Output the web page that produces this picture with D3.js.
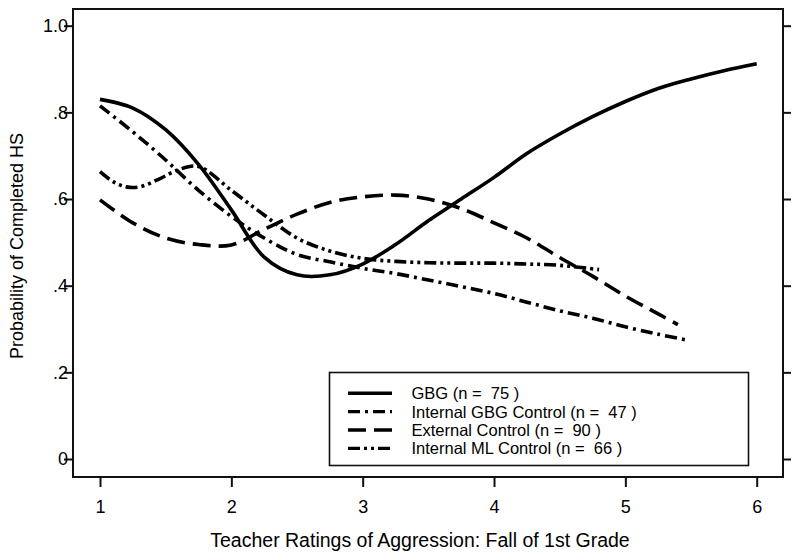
<!DOCTYPE html>
<html>
<head>
<meta charset="utf-8">
<title>Completed HS by Aggression</title>
<script src="https://cdn.jsdelivr.net/npm/d3@7"></script>
<style>
body { margin: 0; background: #fff; }
text { font-family: "Liberation Sans", Arial, sans-serif; fill: #000; }
</style>
</head>
<body>
<svg width="800" height="560" id="chart"></svg>
<script>
// values
var gbgX = [1, 1.25, 1.5, 1.75, 2, 2.25, 2.5, 2.75, 3, 3.25, 3.5, 3.75, 4, 4.25, 4.5, 4.75, 5, 5.25, 5.5, 5.75, 6];
var gbgY = [0.83, 0.81, 0.76, 0.68, 0.575, 0.466, 0.425, 0.425, 0.45, 0.495, 0.55, 0.6, 0.65, 0.705, 0.75, 0.79, 0.825, 0.855, 0.877, 0.896, 0.912];

var intGbgX = [1, 1.25, 1.5, 1.75, 2, 2.25, 2.5, 2.75, 3, 3.25, 3.5, 3.75, 4, 4.25, 4.5, 4.75, 5, 5.25, 5.46];
var intGbgY = [0.815, 0.755, 0.69, 0.62, 0.56, 0.51, 0.472, 0.455, 0.44, 0.428, 0.413, 0.398, 0.382, 0.362, 0.342, 0.325, 0.305, 0.288, 0.275];

var extX = [1, 1.25, 1.5, 1.75, 2, 2.25, 2.5, 2.75, 3, 3.25, 3.5, 3.75, 4, 4.25, 4.5, 4.75, 5, 5.25, 5.4];
var extY = [0.598, 0.545, 0.51, 0.495, 0.494, 0.53, 0.565, 0.592, 0.605, 0.609, 0.6, 0.578, 0.545, 0.51, 0.465, 0.422, 0.376, 0.335, 0.31];

var mlX = [1, 1.1, 1.2, 1.3, 1.45, 1.6, 1.75, 2, 2.25, 2.5, 2.75, 3, 3.25, 3.5, 3.75, 4, 4.25, 4.5, 4.8];
var mlY = [0.663, 0.64, 0.628, 0.628, 0.646, 0.668, 0.675, 0.62, 0.563, 0.51, 0.48, 0.463, 0.456, 0.453, 0.452, 0.452, 0.45, 0.447, 0.437];

var legendLabels = ["GBG (n =  75 )", "Internal GBG Control (n =  47 )", "External Control (n =  90 )", "Internal ML Control (n =  66 )"];
var xTicks = [1, 2, 3, 4, 5, 6];
var yTicks = [0, 0.2, 0.4, 0.6, 0.8, 1.0];
var yTickLabels = ["0", ".2", ".4", ".6", ".8", "1.0"];

var series = [
	{ name: legendLabels[0], x: gbgX, y: gbgY, dash: null },
	{ name: legendLabels[1], x: intGbgX, y: intGbgY, dash: "12,5,3,5" },
	{ name: legendLabels[2], x: extX, y: extY, dash: "18,8" },
	{ name: legendLabels[3], x: mlX, y: mlY, dash: "12,4,3,4,3,4" }
];

var svg = d3.select("#chart");
var frame = { left: 73, right: 783, top: 9, bottom: 477 };

var x = d3.scaleLinear().domain([1, 6]).range([100, 756.7]);
var y = d3.scaleLinear().domain([0, 1]).range([459, 25.7]);

// plot frame
svg.append("rect")
	.attr("x", frame.left).attr("y", frame.top)
	.attr("width", frame.right - frame.left)
	.attr("height", frame.bottom - frame.top)
	.attr("fill", "none").attr("stroke", "#111").attr("stroke-width", 2);

// left axis
var yLabel = {};
yTicks.forEach(function(t, i) { yLabel[t] = yTickLabels[i]; });
var left = svg.append("g").attr("transform", "translate(" + frame.left + ",0)")
	.call(d3.axisLeft(y).tickValues(yTicks).tickSize(9).tickPadding(-4)
		.tickFormat(function(d) { return yLabel[d]; }));
left.select(".domain").remove();
left.selectAll("line").attr("stroke", "#111").attr("stroke-width", 2);
left.selectAll("text").style("font-size", "18px").style("font-family", "Liberation Sans, Arial, sans-serif");

// right axis ticks, no labels
var right = svg.append("g").attr("transform", "translate(" + frame.right + ",0)")
	.call(d3.axisRight(y).tickValues(yTicks).tickSize(8).tickFormat(""));
right.select(".domain").remove();
right.selectAll("line").attr("stroke", "#111").attr("stroke-width", 2);

// bottom axis
var bottom = svg.append("g").attr("transform", "translate(0," + frame.bottom + ")")
	.call(d3.axisBottom(x).tickValues(xTicks).tickSize(10).tickPadding(13).tickFormat(d3.format("d")));
bottom.select(".domain").remove();
bottom.selectAll("line").attr("stroke", "#111").attr("stroke-width", 2);
bottom.selectAll("text").style("font-size", "18px").style("font-family", "Liberation Sans, Arial, sans-serif");

// axis titles
svg.append("text").attr("x", 420).attr("y", 547).attr("text-anchor", "middle")
	.style("font-size", "19.5px").text("Teacher Ratings of Aggression: Fall of 1st Grade");
svg.append("text").attr("transform", "translate(23,246) rotate(-90)").attr("text-anchor", "middle")
	.style("font-size", "18px").text("Probability of Completed HS");

// curves
var line = d3.line()
	.x(function(d) { return x(d[0]); })
	.y(function(d) { return y(d[1]); })
	.curve(d3.curveCatmullRom.alpha(0.5));

series.forEach(function(s) {
	var pts = s.x.map(function(v, i) { return [v, s.y[i]]; });
	svg.append("path").datum(pts)
		.attr("fill", "none").attr("stroke", "#000").attr("stroke-width", 3.6)
		.attr("stroke-dasharray", s.dash)
		.attr("stroke-linejoin", "round")
		.attr("d", line);
});

// legend
var lg = svg.append("g");
lg.append("rect").attr("x", 329.5).attr("y", 372.5).attr("width", 419).attr("height", 93)
	.attr("fill", "#fff").attr("stroke", "#111").attr("stroke-width", 1.6);
series.forEach(function(s, i) {
	var cy = 393.3 + i * 18.35;
	lg.append("line").attr("x1", 348).attr("x2", 392).attr("y1", cy).attr("y2", cy)
		.attr("stroke", "#000").attr("stroke-width", 3.4).attr("stroke-dasharray", s.dash);
	lg.append("text").attr("x", 411.5).attr("y", cy + 5.9)
		.style("font-size", "16.5px").style("white-space", "pre").text(s.name);
});
</script>
</body>
</html>
